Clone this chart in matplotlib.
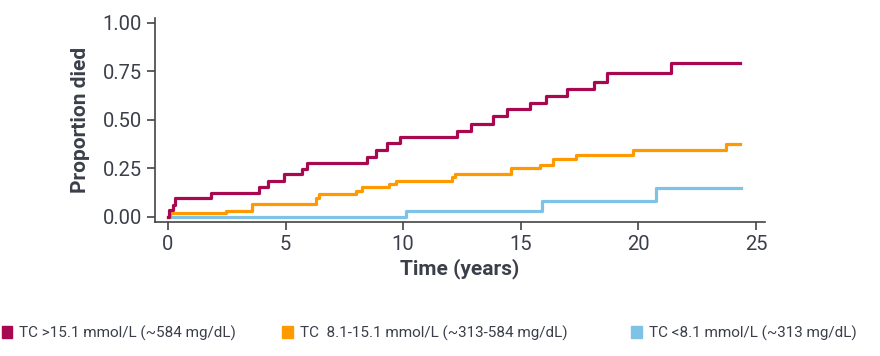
import matplotlib
matplotlib.use("Agg")
import matplotlib.pyplot as plt
from matplotlib.patches import Patch

plt.rcParams['font.family'] = ['Roboto', 'DejaVu Sans']

# step curves (time in years, proportion died)
t_high = [0, 0.05, 0.2, 0.3, 1.83, 3.87, 4.27, 4.93, 5.71, 5.9, 8.48, 8.83, 9.32, 9.86,
          12.27, 12.87, 13.83, 14.43, 15.39, 16.06, 16.95, 18.11, 18.65, 21.37, 24.3]
p_high = [0.0, 0.035, 0.06, 0.095, 0.12, 0.155, 0.186, 0.218, 0.246, 0.275, 0.306, 0.344, 0.378, 0.41,
          0.444, 0.48, 0.52, 0.555, 0.585, 0.622, 0.657, 0.693, 0.739, 0.79, 0.79]

t_mid = [0, 0.1, 2.47, 3.59, 6.29, 6.42, 7.98, 8.26, 9.40, 9.69, 12.06, 12.2,
         14.57, 15.82, 16.38, 17.33, 19.78, 23.71, 24.3]
p_mid = [0.0, 0.017, 0.031, 0.064, 0.098, 0.115, 0.132, 0.151, 0.167, 0.186, 0.206, 0.22,
         0.249, 0.266, 0.296, 0.318, 0.344, 0.373, 0.373]

t_low = [0.1, 10.12, 15.89, 20.75, 24.35]
p_low = [-0.002, 0.029, 0.082, 0.146, 0.146]

labels = ['TC >15.1 mmol/L (~584 mg/dL)',
          'TC  8.1-15.1 mmol/L (~313-584 mg/dL)',
          'TC <8.1 mmol/L (~313 mg/dL)']
colors = ['#A8084F', '#FF9900', '#7EC3E6']
txt = '#3b3f4a'
axc = '#444444'

fig = plt.figure(figsize=(8.8, 3.56), dpi=100)
ax = fig.add_axes([155/880, 1-222/356, 610/880, 204/356])

ax.step(t_low, p_low, where='post', color=colors[2], lw=2.3, zorder=2)
ax.step(t_mid, p_mid, where='post', color=colors[1], lw=2.3, zorder=3)
ax.step(t_high, p_high, where='post', color=colors[0], lw=2.3, zorder=4)

ax.set_xlim(-0.55, 25.38)
ax.set_ylim(-0.027, 1.024)
ax.set_xticks([0, 5, 10, 15, 20, 25])
ax.set_yticks([0, 0.25, 0.5, 0.75, 1.0])
ax.set_yticklabels(['0.00', '0.25', '0.50', '0.75', '1.00'])
for s in ['top', 'right']:
    ax.spines[s].set_visible(False)
for s in ['left', 'bottom']:
    ax.spines[s].set_color(axc)
    ax.spines[s].set_linewidth(1.2)
ax.tick_params(colors=axc, labelcolor=txt, labelsize=14.5, length=6, width=1.2)
ax.set_xlabel('Time (years)', fontsize=15, fontweight='bold', color=txt, labelpad=3)
ax.set_ylabel('Proportion died', fontsize=15, fontweight='bold', color=txt, labelpad=9)

xs = [0.002, 282/880, 631/880]
for x, lab, c in zip(xs, labels, colors):
    fig.legend(handles=[Patch(color=c)], labels=[lab], loc='center left',
               bbox_to_anchor=(x, 23/356), frameon=False, fontsize=11,
               handlelength=0.7, handleheight=0.9, handletextpad=0.45,
               borderpad=0, borderaxespad=0, labelcolor=txt)

fig.savefig('out.png', dpi=100)
